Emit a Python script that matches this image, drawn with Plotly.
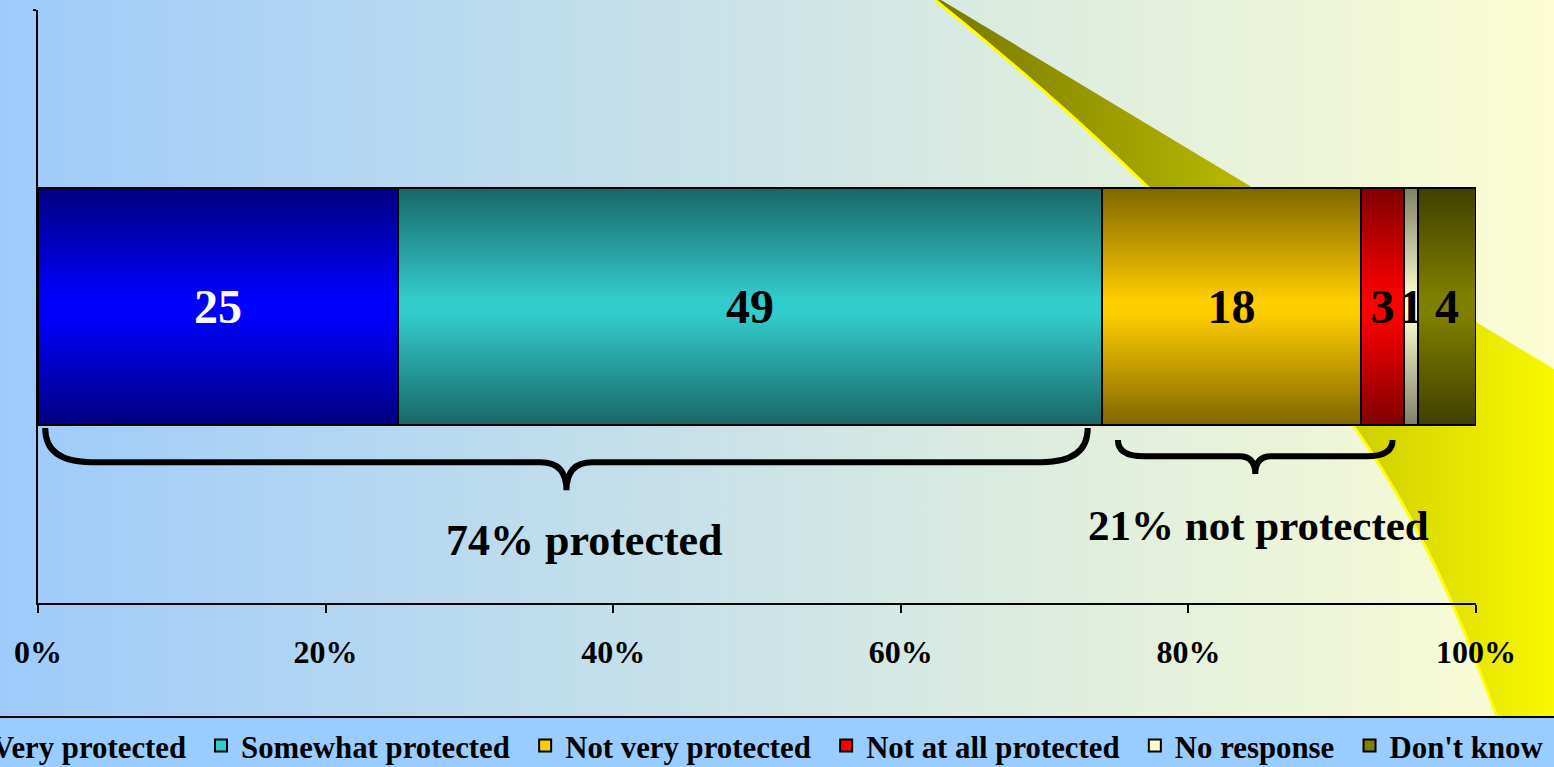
import base64
import plotly.graph_objects as go

# ---------------- data ----------------
categories = ["Very protected", "Somewhat protected", "Not very protected",
              "Not at all protected", "No response", "Don't know"]
values = [25, 49, 18, 3, 1, 4]
colors = ["#0000ff", "#33cccc", "#ffcc00", "#ff0000", "#ffffcc", "#808000"]
label_colors = ["white", "black", "black", "black", "black", "black"]
tick_vals = [0, 20, 40, 60, 80, 100]
tick_labels = ["0%", "20%", "40%", "60%", "80%", "100%"]

W, H = 1554, 767
ML, MR, MT, MB = 38, 78, 10, 164
PW, PH = W - ML - MR, H - MT - MB
FONT = "Liberation Serif, Times New Roman, serif"


def px2paper_x(px):
    return (px - ML) / PW


def px2paper_y(py):
    return (H - MB - py) / PH


def uri(svg):
    return "data:image/svg+xml;base64," + base64.b64encode(svg.encode()).decode()


# background: gradient, yellow swoosh, legend band
bg_svg = f'''<svg xmlns="http://www.w3.org/2000/svg" width="{W}" height="{H}" viewBox="0 0 {W} {H}" preserveAspectRatio="none">
<defs>
<linearGradient id="bg" x1="0" y1="0" x2="{W}" y2="0" gradientUnits="userSpaceOnUse">
<stop offset="0" stop-color="#9ecbfb"/><stop offset="1" stop-color="#fcfdd2"/></linearGradient>
<linearGradient id="sw" x1="935" y1="0" x2="1554" y2="0" gradientUnits="userSpaceOnUse">
<stop offset="0" stop-color="#787800"/><stop offset="1" stop-color="#f8f800"/></linearGradient>
</defs>
<rect x="0" y="0" width="{W}" height="{H}" fill="url(#bg)"/>
<path d="M935,0 L941,0 L1554,369 L1554,767 L1515,767 C1475,653 1433,539 1353,425 C1255,285 1110,140 935,0 Z" fill="url(#sw)"/>
<path d="M1515,767 C1475,653 1433,539 1353,425 C1255,285 1110,140 935,0" fill="none" stroke="#ffff00" stroke-width="3"/>
<rect x="-5" y="717" width="{W + 10}" height="60" fill="#99ccff" stroke="#000000" stroke-width="2"/>
</svg>'''

shade_svg = '''<svg xmlns="http://www.w3.org/2000/svg" width="100" height="100" viewBox="0 0 100 100" preserveAspectRatio="none">
<defs><linearGradient id="g" x1="0" y1="0" x2="0" y2="1">
<stop offset="0" stop-color="#000" stop-opacity="0.5"/>
<stop offset="0.47" stop-color="#000" stop-opacity="0"/>
<stop offset="0.53" stop-color="#000" stop-opacity="0"/>
<stop offset="1" stop-color="#000" stop-opacity="0.5"/>
</linearGradient></defs>
<rect x="0" y="0" width="100" height="100" fill="url(#g)"/></svg>'''

BAR_W = 0.8

fig = go.Figure()
for i, (cat, val, col, lc) in enumerate(zip(categories, values, colors, label_colors)):
    fig.add_trace(go.Bar(
        y=[0], x=[val], orientation="h", width=BAR_W, name=cat + "\u00a0\u200a",
        marker=dict(color=col, line=dict(color="black", width=2)),
        text=[str(val)], textposition="inside", insidetextanchor="middle",
        textangle=0, constraintext="none", cliponaxis=False,
        textfont=dict(family=FONT, size=48, color=lc, weight="bold"),
        legend="legend2" if i == 0 else "legend",
        hoverinfo="skip",
    ))


def brace(x0, x1, ytop, yline, ytip, cx, ctip):
    xm = (x0 + x1) / 2
    return (f"M{x0},{ytop} Q{x0},{yline} {x0 + cx},{yline} L{xm - ctip},{yline} "
            f"Q{xm},{yline} {xm},{ytip} Q{xm},{yline} {xm + ctip},{yline} "
            f"L{x1 - cx},{yline} Q{x1},{yline} {x1},{ytop}")


prot = values[0] + values[1]
notprot = values[2] + values[3]
b1 = brace(0 + 0.5, prot - 1.0, -0.41, -0.525, -0.62, 3.2, 1.8)
b2 = brace(prot + 1.1, prot + notprot - 0.8, -0.45, -0.505, -0.565, 1.8, 1.1)
shapes = [dict(type="path", path=p, xref="x", yref="y",
               line=dict(color="black", width=6), layer="above")
          for p in (b1, b2)]

annotations = [
    dict(x=prot / 2 + 1, y=-0.79, xref="x", yref="y", text=f"{prot}% protected",
         showarrow=False, font=dict(family=FONT, size=44, color="black", weight="bold")),
    dict(x=prot + notprot / 2 + 0.4, y=-0.737, xref="x", yref="y",
         text=f"{notprot}% not protected", showarrow=False,
         font=dict(family=FONT, size=43, color="black", weight="bold")),
]

images = [
    dict(source=uri(bg_svg), xref="paper", yref="paper",
         x=px2paper_x(0), y=px2paper_y(0), sizex=W / PW, sizey=H / PH,
         xanchor="left", yanchor="top", sizing="stretch", layer="below"),
    dict(source=uri(shade_svg), xref="x", yref="y", x=0, y=BAR_W / 2,
         sizex=sum(values), sizey=BAR_W, xanchor="left", yanchor="top",
         sizing="stretch", layer="above"),
]

legend_font = dict(family=FONT, size=30.8, color="black", weight="bold")
fig.update_layout(
    width=W, height=H,
    margin=dict(l=ML, r=MR, t=MT, b=MB, autoexpand=False),
    paper_bgcolor="rgba(0,0,0,0)", plot_bgcolor="rgba(0,0,0,0)",
    barmode="stack", bargap=0,
    showlegend=True,
    legend=dict(orientation="h", x=px2paper_x(201), y=px2paper_y(746),
                xanchor="left", yanchor="middle", bgcolor="rgba(0,0,0,0)",
                font=legend_font, borderwidth=0, traceorder="normal"),
    legend2=dict(orientation="h", x=px2paper_x(-48), y=px2paper_y(746),
                 xanchor="left", yanchor="middle", bgcolor="rgba(0,0,0,0)",
                 font=legend_font, borderwidth=0),
    xaxis=dict(range=[0, 100], showgrid=False, zeroline=False,
               showline=True, linecolor="black", linewidth=2,
               ticks="outside", ticklen=8, tickwidth=2, tickcolor="black",
               tickvals=tick_vals, ticktext=tick_labels, ticklabelstandoff=12,
               tickfont=dict(family=FONT, size=32, color="black", weight="bold")),
    yaxis=dict(range=[-1, 1], showgrid=False, zeroline=False,
               showline=True, linecolor="black", linewidth=2,
               ticks="outside", ticklen=3, tickwidth=2, tickcolor="black",
               tickvals=[1], showticklabels=False),
    shapes=shapes, annotations=annotations, images=images,
)

fig.write_html("out.html", config={"displayModeBar": False},
               post_script="document.body.style.margin='0';document.body.style.overflow='hidden';")
